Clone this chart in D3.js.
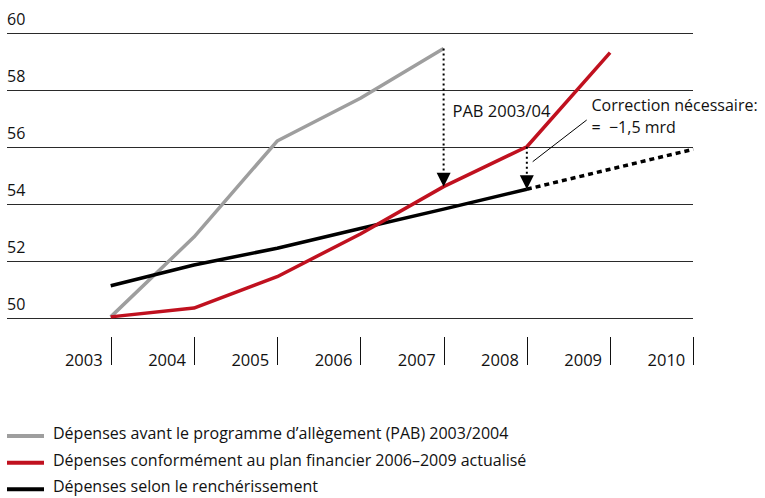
<!DOCTYPE html>
<html>
<head>
<meta charset="utf-8">
<script src="https://cdn.jsdelivr.net/npm/d3@7/dist/d3.min.js"></script>
<style>
  html, body { margin: 0; padding: 0; background: #fff; }
  svg text { font-family: "Open Sans", "Noto Sans", sans-serif; fill: #111; }
</style>
</head>
<body>
<svg id="chart" width="765" height="498"></svg>
<script>
// Expenditure in billions of francs
const years = [2003, 2004, 2005, 2006, 2007, 2008, 2009, 2010];
const yTicks = [50, 52, 54, 56, 58, 60];

// Before the relief programme (PAB) 2003/2004, 2003–2007
const pabYears = [2003, 2004, 2005, 2006, 2007];
const pabValues = [50.05, 52.85, 56.22, 57.72, 59.47];

// Updated financial plan 2006–2009, 2003–2009
const planYears = [2003, 2004, 2005, 2006, 2007, 2008, 2009];
const planValues = [50.05, 50.36, 51.46, 52.96, 54.62, 56.02, 59.32];

// Growth in line with inflation, 2003–2008, then projected to 2010
const inflYears = [2003, 2004, 2005, 2006, 2007, 2008];
const inflValues = [51.14, 51.87, 52.46, 53.15, 53.83, 54.53];
const projYears = [2008, 2009, 2010];
const projValues = [54.53, 55.23, 55.93];

const legendLabels = [
  "Dépenses avant le programme d’allègement (PAB) 2003/2004",
  "Dépenses conformément au plan financier 2006–2009 actualisé",
  "Dépenses selon le renchérissement"
];
const colors = { pab: "#9e9e9e", plan: "#c0111f", infl: "#000000" };

const svg = d3.select("#chart");

const x = d3.scaleLinear().domain([2003, 2010]).range([110.7, 693.3]);
const y = d3.scaleLinear().domain([50, 60]).range([318.3, 33.3]);
const gridLeft = 7, gridRight = 693;

// Horizontal gridlines with labels above them
const grid = svg.append("g");
grid.selectAll("line").data(yTicks).join("line")
  .attr("x1", gridLeft).attr("x2", gridRight)
  .attr("y1", d => Math.round(y(d)) + 0.5).attr("y2", d => Math.round(y(d)) + 0.5)
  .attr("stroke", "#2a2a2a").attr("stroke-width", 1);
grid.selectAll("text").data(yTicks).join("text")
  .attr("x", gridLeft).attr("y", d => y(d) - 8)
  .attr("font-size", 16)
  .text(d => d);

// Year axis: separators at each year, label to the left
const xa = svg.append("g");
xa.selectAll("line").data(years).join("line")
  .attr("x1", d => Math.round(x(d)) + 0.5).attr("x2", d => Math.round(x(d)) + 0.5)
  .attr("y1", 337).attr("y2", 365)
  .attr("stroke", "#111").attr("stroke-width", 1);
xa.selectAll("text").data(years).join("text")
  .attr("x", d => x(d) - 8).attr("y", 366)
  .attr("text-anchor", "end").attr("font-size", 16.5)
  .text(d => d);

const line = d3.line().x(d => x(d[0])).y(d => y(d[1]));
const zip = (a, b) => a.map((v, i) => [v, b[i]]);

function series(xs, vs, color, dash, width) {
  svg.append("path")
    .datum(zip(xs, vs))
    .attr("d", line)
    .attr("fill", "none")
    .attr("stroke", color)
    .attr("stroke-width", width)
    .attr("stroke-linejoin", "round")
    .attr("stroke-dasharray", dash || null);
}

series(pabYears, pabValues, colors.pab, null, 3.5);
series(inflYears, inflValues, colors.infl, null, 3.5);
series(projYears, projValues, colors.infl, "5,4", 3.5);
series(planYears, planValues, colors.plan, null, 3.5);

// Dotted arrows: PAB cut in 2007 and required correction in 2008
function arrow(year, fromVal, toVal) {
  const ax = x(year), y0 = y(fromVal), y1 = y(toVal);
  const head = 14, half = 7;
  svg.append("line")
    .attr("x1", ax).attr("x2", ax)
    .attr("y1", y0).attr("y2", y1 - head)
    .attr("stroke", "#000").attr("stroke-width", 2)
    .attr("stroke-dasharray", "2,3");
  svg.append("path")
    .attr("d", `M${ax - half},${y1 - head}L${ax + half},${y1 - head}L${ax},${y1}Z`)
    .attr("fill", "#000");
}
arrow(2007, pabValues[pabYears.indexOf(2007)], planValues[planYears.indexOf(2007)]);
arrow(2008, planValues[planYears.indexOf(2008)], inflValues[inflYears.indexOf(2008)]);

// Annotations
svg.append("text").attr("x", 452.5).attr("y", 116.5).attr("font-size", 16.5)
  .text("PAB 2003/04");
const corr = svg.append("text").attr("x", 591.5).attr("y", 111).attr("font-size", 16)
  .attr("xml:space", "preserve");
corr.append("tspan").attr("x", 591.5).attr("y", 111).text("Correction nécessaire:");
corr.append("tspan").attr("x", 591.5).attr("y", 133).text("=  −1,5 mrd");
svg.append("line")
  .attr("x1", 586.7).attr("y1", 120).attr("x2", 532.7).attr("y2", 161.7)
  .attr("stroke", "#000").attr("stroke-width", 1);

// Legend
const legendColors = [colors.pab, colors.plan, colors.infl];
const legend = svg.append("g");
const ly = [436, 462.7, 489.3];
legend.selectAll("line").data(legendLabels).join("line")
  .attr("x1", 7).attr("x2", 44)
  .attr("y1", (d, i) => ly[i]).attr("y2", (d, i) => ly[i])
  .attr("stroke", (d, i) => legendColors[i]).attr("stroke-width", 4);
legend.selectAll("text").data(legendLabels).join("text")
  .attr("x", 53).attr("y", (d, i) => ly[i] + 3)
  .attr("font-size", 16)
  .text(d => d);
</script>
</body>
</html>
